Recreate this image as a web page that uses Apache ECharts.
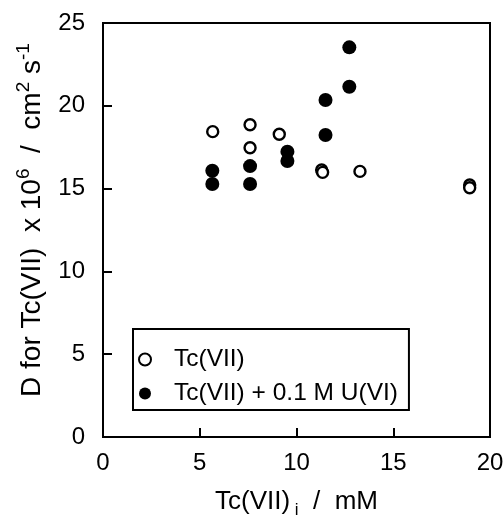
<!DOCTYPE html>
<html>
<head>
<meta charset="utf-8">
<script src="https://cdn.jsdelivr.net/npm/echarts@6/dist/echarts.min.js"></script>
<style>
  html, body { margin: 0; padding: 0; background: #fff; }
  #chart { width: 504px; height: 518px; }
</style>
</head>
<body>
<div id="chart"></div>
<script>
// Tc(VII) alone (open circles): [Tc(VII)_i mM, D x10^6]
const tcOnly = [
  [5.67, 18.44], [7.6, 18.86], [7.6, 17.47], [9.11, 18.28],
  [11.3, 16.12], [11.35, 15.98], [13.28, 16.04], [18.95, 15.22], [18.95, 15.05]
];
// Tc(VII) + 0.1 M U(VI) (filled circles)
const tcWithU = [
  [5.65, 16.08], [5.65, 15.28], [7.6, 16.36], [7.6, 15.28],
  [9.53, 17.23], [9.53, 16.67], [11.5, 20.35], [11.5, 18.24],
  [12.73, 23.53], [12.73, 21.15]
];
const seriesNames = ["Tc(VII)", "Tc(VII) + 0.1 M U(VI)"];
const xTicks = [0, 5, 10, 15, 20];
const yTicks = [0, 5, 10, 15, 20, 25];

const font = "Liberation Sans";

const option = {
  animation: false,
  backgroundColor: "#fff",
  textStyle: { fontFamily: font, color: "#000" },
  grid: {
    left: 103, right: 14, top: 23, bottom: 81,
    outerBoundsMode: "none",
    show: true, borderColor: "#000", borderWidth: 2
  },
  legend: {
    left: 133, top: 329,
    orient: "vertical",
    data: seriesNames,
    icon: "circle",
    itemWidth: 26, itemHeight: 12,
    itemGap: 9,
    padding: [18, 11, 4, 5],
    borderColor: "#000", borderWidth: 2,
    backgroundColor: "#fff",
    textStyle: { fontFamily: font, fontSize: 24.5, color: "#000", padding: [0, 0, 0, 11] }
  },
  xAxis: {
    type: "value",
    min: xTicks[0], max: xTicks[xTicks.length - 1], interval: 5,
    axisLine: { show: false },
    axisTick: { show: true, inside: true, length: 9, lineStyle: { color: "#000", width: 2 } },
    splitLine: { show: false },
    axisLabel: { fontFamily: font, fontSize: 24, color: "#000", margin: 14 },
    name: "{n|Tc(VII)}{sub| i}{n|  /  mM}",
    nameLocation: "middle",
    nameGap: 48,
    nameTextStyle: {
      rich: {
        n: { fontFamily: font, fontSize: 26, color: "#000", lineHeight: 30, verticalAlign: "top" },
        sub: { fontFamily: font, fontSize: 17, color: "#000", lineHeight: 20, padding: [22, 0, 0, 0], verticalAlign: "bottom" }
      }
    }
  },
  yAxis: {
    type: "value",
    min: yTicks[0], max: yTicks[yTicks.length - 1], interval: 5,
    axisLine: { show: false },
    axisTick: { show: true, inside: true, length: 9, lineStyle: { color: "#000", width: 2 } },
    splitLine: { show: false },
    axisLabel: { fontFamily: font, fontSize: 24, color: "#000", margin: 18 },
    name: "{n|D for Tc(VII)  x 10}{sup|6}{n|  /  cm}{sup|2}{n| s}{sup|-1}",
    nameLocation: "middle",
    nameRotate: 90,
    nameGap: 52,
    nameTextStyle: {
      padding: [0, 0, 0, 20],
      rich: {
        n: { fontFamily: font, fontSize: 28, color: "#000", lineHeight: 32, verticalAlign: "bottom" },
        sup: { fontFamily: font, fontSize: 19, color: "#000", lineHeight: 22, padding: [0, 0, 14, 0], verticalAlign: "top" }
      }
    }
  },
  series: [
    {
      name: seriesNames[0],
      type: "scatter",
      data: tcOnly,
      symbol: "circle",
      symbolSize: 11,
      itemStyle: { color: "#fff", borderColor: "#000", borderWidth: 2.4, opacity: 1 }
    },
    {
      name: seriesNames[1],
      type: "scatter",
      data: tcWithU,
      symbol: "circle",
      symbolSize: 14,
      itemStyle: { color: "#000", borderWidth: 0, opacity: 1 }
    }
  ]
};

const chartObj = echarts.init(document.getElementById("chart"));
chartObj.setOption(option);
</script>
</body>
</html>
